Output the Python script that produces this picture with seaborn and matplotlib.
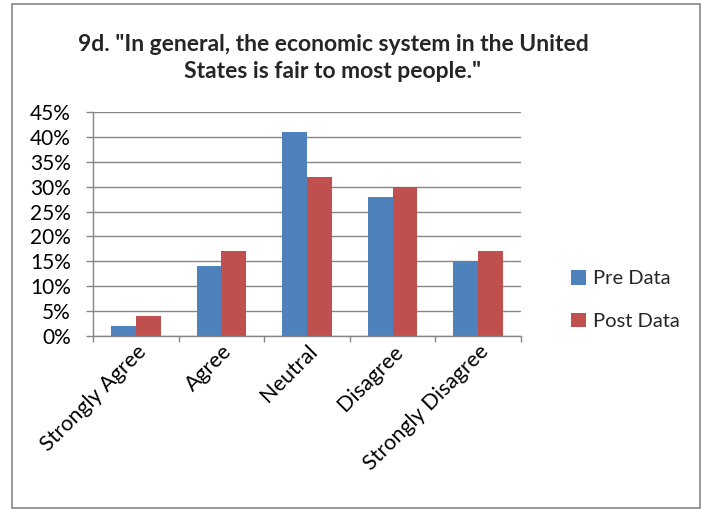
import matplotlib
matplotlib.use("Agg")
import matplotlib.pyplot as plt
import seaborn as sns
import pandas as pd
from matplotlib.ticker import PercentFormatter, FixedLocator
from matplotlib.patches import Rectangle, Patch

categories = ["Strongly Agree", "Agree", "Neutral", "Disagree", "Strongly Disagree"]
pre_data = [0.02, 0.14, 0.41, 0.28, 0.15]
post_data = [0.04, 0.17, 0.32, 0.30, 0.17]
series_names = ["Pre Data", "Post Data"]
colors = ["#4F81BD", "#C0504D"]
title = '9d. "In general, the economic system in the United\nStates is fair to most people."'

df = pd.DataFrame({
    "category": categories * 2,
    "value": pre_data + post_data,
    "series": [series_names[0]] * len(categories) + [series_names[1]] * len(categories),
})

sns.set_theme(style="white")
plt.rcParams["font.family"] = ["Lato", "DejaVu Sans"]

fig = plt.figure(figsize=(7.05, 5.12), dpi=100)
ax = fig.add_axes([93 / 705, 1 - 336 / 512, (521 - 93) / 705, (336 - 112) / 512])

sns.barplot(data=df, x="category", y="value", hue="series", palette=colors,
            width=0.58, dodge=True, ax=ax, legend=False, saturation=1,
            edgecolor="none")

grid_c = "#868686"
ax.set_ylim(0, 0.45)
ax.set_xlim(-0.5, len(categories) - 0.5)
ax.yaxis.set_major_locator(FixedLocator([i * 0.05 for i in range(10)]))
ax.yaxis.set_major_formatter(PercentFormatter(1.0, decimals=0))
ax.grid(axis="y", color=grid_c, linewidth=1)
ax.set_axisbelow(True)
ax.set_xlabel("")
ax.set_ylabel("")
for s in ["top", "right"]:
    ax.spines[s].set_visible(False)
for s in ["left", "bottom"]:
    ax.spines[s].set_color(grid_c)
    ax.spines[s].set_linewidth(1)

ax.tick_params(axis="y", which="major", left=True, length=5, width=1, color=grid_c,
               labelsize=15, pad=11, labelcolor="black")
ax.tick_params(axis="x", which="major", bottom=False, length=0, labelsize=15.5, pad=4,
               labelcolor="black")
ax.set_xticks(range(len(categories)))
ax.set_xticklabels(categories, rotation=45, ha="right", rotation_mode="anchor")
ax.set_xticks([i - 0.5 for i in range(len(categories) + 1)], minor=True)
ax.tick_params(axis="x", which="minor", bottom=True, length=4, width=1, color=grid_c)

handles = [Patch(facecolor=c, edgecolor="none") for c in colors]
fig.legend(handles, series_names, loc="center left", bbox_to_anchor=(553 / 705, 1 - 300 / 512),
           frameon=False, fontsize=14.5, handlelength=0.75, handleheight=0.75,
           handletextpad=0.35, labelspacing=1.25)

fig.text(333 / 705, 1 - 58 / 512, title, ha="center", va="center", fontsize=16.5,
         fontweight="bold", linespacing=1.3)

fig.patches.append(Rectangle((12 / 705, 4 / 512), (700 - 12) / 705, (508 - 4) / 512,
                             transform=fig.transFigure, fill=False, edgecolor="#868686",
                             linewidth=1.2))

fig.savefig("out.png", dpi=100)
